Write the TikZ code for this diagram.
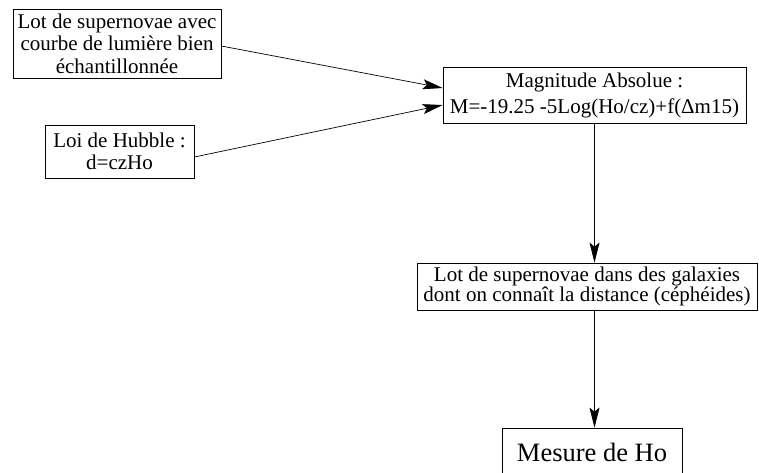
\documentclass[tikz,border=0pt]{standalone}
\usepackage{fontspec}
\setmainfont{Liberation Serif}
\usetikzlibrary{arrows.meta}

\tikzset{
  etape/.style={draw, line width=0.7pt, align=center, inner sep=0pt,
    font=\fontsize{21}{22.5}\selectfont},
  fleche/.style={line width=0.7pt, -{Stealth[length=20pt, width=10pt, inset=4pt]}}
}

\begin{document}
\begin{tikzpicture}[x=1pt, y=-1pt]
    \useasboundingbox (0,0) rectangle (759,473);
    \node[etape, minimum width=208pt, minimum height=69pt] (lot) at (117, 43.5) {Lot de supernovae avec\\courbe de lumière bien\\échantillonnée};
    \node[etape, minimum width=149pt, minimum height=53pt] (hubble) at (119.5, 151.5) {Loi de Hubble :\\d=czHo};
    \node[etape, minimum width=303pt, minimum height=56pt] (magn) at (594.5, 95.5) {Magnitude Absolue :\\[4pt]M=-19.25 -5Log(Ho/cz)+f(Δm15)};
    \node[etape, minimum width=340pt, minimum height=47pt] (ceph) at (587, 286.5) {Lot de supernovae dans des galaxies\\[-3pt]dont on connaît la distance (céphéides)};
    \node[etape, minimum width=180pt, minimum height=48pt, font=\fontsize{26.5}{30}\selectfont] (mesure) at (592, 452) {Mesure de Ho};
    \coordinate (in1) at ([yshift=7.5pt]magn.west);
    \coordinate (in2) at ([yshift=-9.5pt]magn.west);
    \draw[fleche] ([yshift=-2.5pt]lot.east) -- (in1);
    \draw[fleche] ([yshift=-5.5pt]hubble.east) -- (in2);
    \draw[fleche] (magn.south) -- (magn.south |- ceph.north);
    \draw[fleche] (magn.south |- ceph.south) -- (magn.south |- mesure.north);
\end{tikzpicture}
\end{document}
